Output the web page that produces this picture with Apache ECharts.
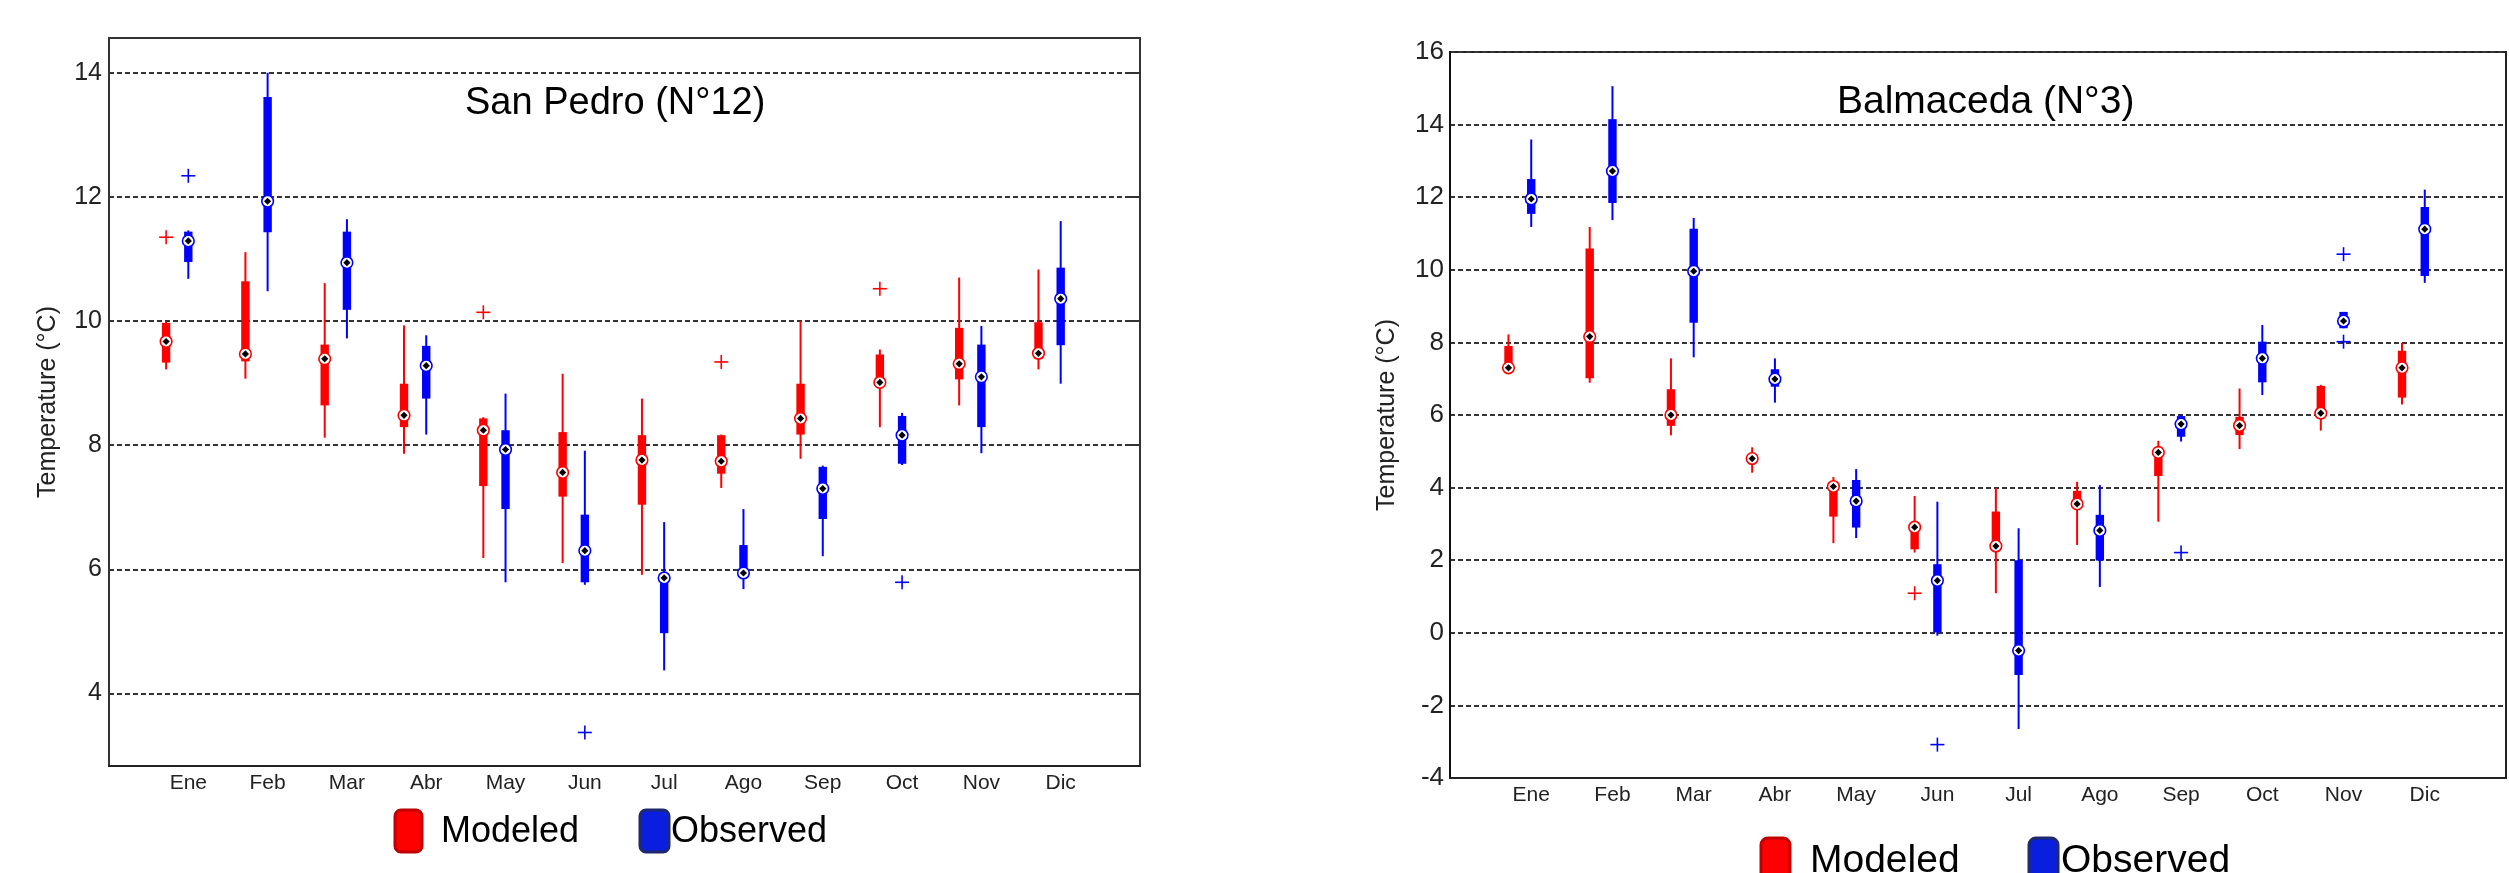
<!DOCTYPE html>
<html>
<head>
<meta charset="utf-8">
<script src="https://cdn.jsdelivr.net/npm/echarts@6/dist/echarts.min.js"></script>
<style>
html, body { margin: 0; padding: 0; background: #fff; }
#main { width: 2509px; height: 873px; }
</style>
</head>
<body>
<div id="main"></div>
<script>
var months = ['Ene', 'Feb', 'Mar', 'Abr', 'May', 'Jun', 'Jul', 'Ago', 'Sep', 'Oct', 'Nov', 'Dic'];

// San Pedro (N°12) - [whisker low, q1, median, q3, whisker high]
var spModeled = [
	[9.22, 9.33, 9.67, 9.97, 9.99],
	[9.07, 9.35, 9.47, 10.64, 11.11],
	[8.12, 8.64, 9.39, 9.62, 10.61],
	[7.86, 8.29, 8.48, 8.99, 9.93],
	[6.18, 7.34, 8.24, 8.43, 8.45],
	[6.10, 7.17, 7.56, 8.21, 9.15],
	[5.91, 7.04, 7.76, 8.16, 8.75],
	[7.31, 7.54, 7.74, 8.16, 8.17],
	[7.78, 8.17, 8.43, 8.99, 10.00],
	[8.29, 8.97, 9.01, 9.46, 9.54],
	[8.64, 9.06, 9.31, 9.89, 10.70],
	[9.22, 9.39, 9.48, 9.98, 10.83]
];
var spObserved = [
	[10.68, 10.95, 11.29, 11.44, 11.46],
	[10.48, 11.43, 11.93, 13.61, 14.00],
	[9.72, 10.18, 10.94, 11.44, 11.64],
	[8.17, 8.75, 9.28, 9.60, 9.77],
	[5.79, 6.97, 7.93, 8.24, 8.83],
	[5.75, 5.79, 6.30, 6.88, 7.91],
	[4.37, 4.97, 5.86, 5.90, 6.76],
	[5.68, 5.90, 5.94, 6.39, 6.97],
	[6.21, 6.81, 7.30, 7.65, 7.67],
	[7.68, 7.70, 8.16, 8.47, 8.52],
	[7.87, 8.29, 9.10, 9.62, 9.92],
	[8.99, 9.61, 10.36, 10.86, 11.61]
];
// outliers: [month number, value]
var spModeledOut = [[1, 11.35], [5, 10.14], [8, 9.34], [10, 10.52]];
var spObservedOut = [[1, 12.34], [6, 3.37], [10, 5.79]];
var spTicks = [4, 6, 8, 10, 12, 14];

// Balmaceda (N°3)
var bmModeled = [
	[7.25, 7.28, 7.30, 7.90, 8.22],
	[6.89, 7.01, 8.16, 10.59, 11.18],
	[5.44, 5.70, 6.00, 6.71, 7.56],
	[4.41, 4.70, 4.80, 4.90, 5.11],
	[2.47, 3.20, 4.03, 4.10, 4.29],
	[2.21, 2.30, 2.91, 3.00, 3.77],
	[1.09, 2.35, 2.39, 3.34, 3.98],
	[2.42, 3.45, 3.55, 3.91, 4.16],
	[3.06, 4.32, 4.97, 5.10, 5.29],
	[5.06, 5.45, 5.71, 5.95, 6.73],
	[5.57, 5.91, 6.05, 6.80, 6.83],
	[6.29, 6.48, 7.30, 7.77, 7.99]
];
var bmObserved = [
	[11.18, 11.54, 11.95, 12.50, 13.59],
	[11.37, 11.84, 12.72, 14.15, 15.06],
	[7.59, 8.54, 9.96, 11.13, 11.43],
	[6.34, 6.78, 6.99, 7.26, 7.56],
	[2.61, 2.90, 3.63, 4.21, 4.51],
	[-0.08, 0.01, 1.44, 1.89, 3.61],
	[-2.65, -1.16, -0.49, 2.00, 2.88],
	[1.26, 1.99, 2.82, 3.25, 4.07],
	[5.27, 5.40, 5.75, 5.97, 6.00],
	[6.55, 6.90, 7.56, 8.02, 8.48],
	[8.39, 8.39, 8.59, 8.84, 8.84],
	[9.64, 9.83, 11.12, 11.73, 12.21]
];
var bmModeledOut = [[6, 1.09]];
var bmObservedOut = [[6, -3.08], [9, 2.21], [11, 10.43], [11, 8.02]];

var modeledShift = -0.28;
var observedShift = 0;

var font = "'Liberation Sans', Arial, sans-serif";

function boxData(rows, shift) {
	return rows.map(function (r, i) {
		return [i + 1 + shift].concat(r);
	});
}
function outData(rows, shift) {
	return rows.map(function (r) {
		return [r[0] + shift, r[1]];
	});
}

function renderBox(params, api) {
	var x = api.value(0);
	var lo = api.coord([x, api.value(1)]);
	var q1 = api.coord([x, api.value(2)]);
	var md = api.coord([x, api.value(3)]);
	var q3 = api.coord([x, api.value(4)]);
	var hi = api.coord([x, api.value(5)]);
	var color = api.visual('color');
	var cx = md[0], cy = md[1], d = 3.6;
	return {
		type: 'group',
		children: [
			{ type: 'line', shape: { x1: lo[0], y1: lo[1], x2: hi[0], y2: hi[1] }, style: { stroke: color, lineWidth: 2 } },
			{ type: 'rect', shape: { x: q3[0] - 4.2, y: q3[1], width: 8.4, height: Math.max(q1[1] - q3[1], 1) }, style: { fill: color } },
			{ type: 'circle', shape: { cx: cx, cy: cy, r: 5.8 }, style: { fill: '#fff', stroke: color, lineWidth: 1.6 } },
			{ type: 'polygon', shape: { points: [[cx, cy - d], [cx + d, cy], [cx, cy + d], [cx - d, cy]] }, style: { fill: '#000' } }
		]
	};
}

function renderPlus(params, api) {
	var p = api.coord([api.value(0), api.value(1)]);
	var color = api.visual('color');
	var s = 7;
	return {
		type: 'group',
		children: [
			{ type: 'line', shape: { x1: p[0] - s, y1: p[1], x2: p[0] + s, y2: p[1] }, style: { stroke: color, lineWidth: 1.6 } },
			{ type: 'line', shape: { x1: p[0], y1: p[1] - s, x2: p[0], y2: p[1] + s }, style: { stroke: color, lineWidth: 1.6 } }
		]
	};
}

function makeSeries(name, color, grid, boxes, outs, shift) {
	return [{
		name: name,
		type: 'custom',
		xAxisIndex: grid,
		yAxisIndex: grid === 0 ? 0 : 2,
		itemStyle: { color: color },
		renderItem: renderBox,
		clip: false,
		z: 5,
		data: boxData(boxes, shift)
	}, {
		name: name,
		type: 'custom',
		xAxisIndex: grid,
		yAxisIndex: grid === 0 ? 0 : 2,
		itemStyle: { color: color },
		renderItem: renderPlus,
		clip: false,
		z: 5,
		data: outData(outs, shift)
	}];
}

var dashed = { type: [5, 3], color: '#333', width: 2 };

function monthAxis(grid, margin) {
	return {
		gridIndex: grid,
		type: 'value',
		min: 0,
		max: 13,
		interval: 1,
		axisLine: { show: true, onZero: false, lineStyle: { color: '#222', width: 2 } },
		axisTick: { show: false },
		splitLine: { show: false },
		axisLabel: {
			fontFamily: font,
			fontSize: 21,
			color: '#222',
			margin: margin,
			formatter: function (v) { return months[v - 1] || ''; }
		}
	};
}

var option = {
	backgroundColor: '#fff',
	animation: false,
	grid: [
		{ left: 109, top: 38, width: 1031, bottom: 107, show: true, borderColor: '#333', borderWidth: 2, backgroundColor: 'transparent' },
		{ left: 1450, top: 52, width: 1090, bottom: 95, show: true, borderColor: '#222', borderWidth: 2, backgroundColor: 'transparent' }
	],
	xAxis: [monthAxis(0, 7), monthAxis(1, 7)],
	yAxis: [{
		gridIndex: 0,
		type: 'value',
		min: 2.83,
		max: 14.56,
		name: 'Temperature (°C)',
		nameLocation: 'middle',
		nameGap: 48,
		nameTextStyle: { fontFamily: font, fontSize: 25, color: '#222' },
		axisLine: { show: true, lineStyle: { color: '#333', width: 2 } },
		axisTick: { show: false, customValues: spTicks },
		axisLabel: { customValues: spTicks, fontFamily: font, fontSize: 25, color: '#222', margin: 7 },
		splitLine: { show: true, lineStyle: dashed }
	}, {
		gridIndex: 0,
		type: 'value',
		position: 'right',
		min: 2.83,
		max: 14.56,
		axisLine: { show: false },
		axisTick: { show: true, inside: true, length: 10, customValues: spTicks, lineStyle: { color: '#333', width: 2 } },
		axisLabel: { show: false },
		splitLine: { show: false }
	}, {
		gridIndex: 1,
		type: 'value',
		min: -4,
		max: 16,
		interval: 2,
		name: 'Temperature (°C)',
		nameLocation: 'middle',
		nameGap: 50,
		nameTextStyle: { fontFamily: font, fontSize: 25, color: '#222' },
		axisLine: { show: true, lineStyle: { color: '#111', width: 2 } },
		axisTick: { show: false },
		axisLabel: { fontFamily: font, fontSize: 26, color: '#222', margin: 6 },
		splitLine: { show: true, lineStyle: dashed }
	}],
	series: [].concat(
		makeSeries('Modeled', '#ff0000', 0, spModeled, spModeledOut, modeledShift),
		makeSeries('Observed', '#0000ff', 0, spObserved, spObservedOut, observedShift),
		makeSeries('Modeled', '#ff0000', 1, bmModeled, bmModeledOut, modeledShift),
		makeSeries('Observed', '#0000ff', 1, bmObserved, bmObservedOut, observedShift)
	),
	graphic: [
		{ type: 'text', x: 465, y: 104, style: { text: 'San Pedro (N°12)', font: '38px ' + font, fill: '#000', verticalAlign: 'middle' } },
		{ type: 'text', x: 1837, y: 102, style: { text: 'Balmaceda (N°3)', font: '39px ' + font, fill: '#000', verticalAlign: 'middle' } },
		// legend, left panel
		{ type: 'rect', shape: { x: 395, y: 810, width: 27, height: 42, r: 6 }, style: { fill: '#ff0000', stroke: '#c00000', lineWidth: 3 } },
		{ type: 'text', x: 441, y: 832, style: { text: 'Modeled', font: '36px ' + font, fill: '#000', verticalAlign: 'middle' } },
		{ type: 'rect', shape: { x: 640, y: 810, width: 29, height: 42, r: 6 }, style: { fill: '#0a1ee0', stroke: '#1f2a6e', lineWidth: 3 } },
		{ type: 'text', x: 671, y: 832, style: { text: 'Observed', font: '36px ' + font, fill: '#000', verticalAlign: 'middle' } },
		// legend, right panel
		{ type: 'rect', shape: { x: 1761, y: 838, width: 29, height: 50, r: 7 }, style: { fill: '#ff0000', stroke: '#c00000', lineWidth: 3 } },
		{ type: 'text', x: 1810, y: 861, style: { text: 'Modeled', font: '39px ' + font, fill: '#000', verticalAlign: 'middle' } },
		{ type: 'rect', shape: { x: 2029, y: 838, width: 29, height: 50, r: 7 }, style: { fill: '#0a1ee0', stroke: '#1f2a6e', lineWidth: 3 } },
		{ type: 'text', x: 2061, y: 861, style: { text: 'Observed', font: '39px ' + font, fill: '#000', verticalAlign: 'middle' } }
	]
};

var chart = echarts.init(document.getElementById('main'));
chart.setOption(option);
</script>
</body>
</html>
